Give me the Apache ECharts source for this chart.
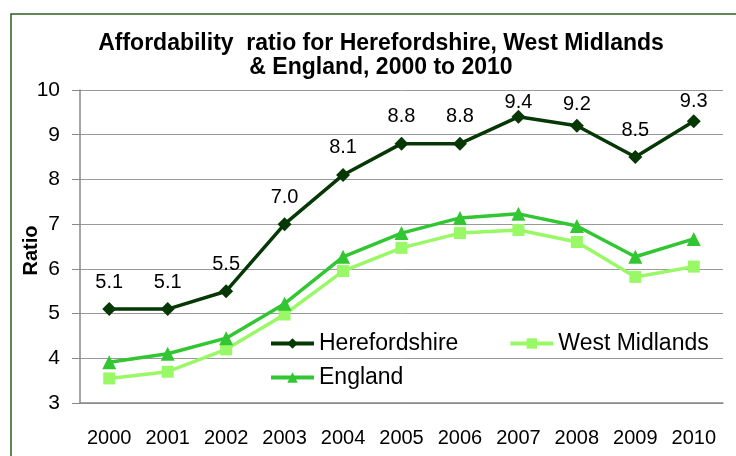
<!DOCTYPE html>
<html>
<head>
<meta charset="utf-8">
<script src="https://cdn.jsdelivr.net/npm/echarts@6/dist/echarts.min.js"></script>
<style>
    html, body { margin: 0; padding: 0; background: #fff; }
    #chart { width: 736px; height: 456px; }
</style>
</head>
<body>
<div id="chart"></div>
<script>
// data
const years = ['2000', '2001', '2002', '2003', '2004', '2005', '2006', '2007', '2008', '2009', '2010'];
const herefordshire = [5.1, 5.1, 5.5, 7.0, 8.1, 8.8, 8.8, 9.4, 9.2, 8.5, 9.3];
const westMidlands = [3.55, 3.7, 4.2, 4.98, 5.95, 6.47, 6.8, 6.87, 6.6, 5.82, 6.05];
const england = [3.91, 4.1, 4.45, 5.22, 6.27, 6.8, 7.14, 7.23, 6.96, 6.27, 6.67];

// labels near the top of the plot sit lower in the original
const labelShift = { 7: 13, 8: 6, 10: 7 };

document.addEventListener("DOMContentLoaded", function () {
    lineChart()
});

function lineChart() {
    const chart = echarts.init(document.getElementById('chart'));
    const font = 'Liberation Sans, Arial, sans-serif';

    const hereData = herefordshire.map(function (v, i) {
        if (labelShift[i]) {
            return { value: v, label: { offset: [0, labelShift[i]] } };
        }
        return v;
    });

    const legendText = { fontFamily: font, fontSize: 23, color: '#000' };

    chart.setOption({
        animation: false,
        textStyle: { fontFamily: font },
        title: {
            text: 'Affordability  ratio for Herefordshire, West Midlands\n& England, 2000 to 2010',
            left: 376,
            top: 27,
            textAlign: 'center',
            textStyle: {
                fontFamily: font,
                fontSize: 23,
                fontWeight: 'bold',
                color: '#000',
                lineHeight: 24
            }
        },
        // frame round the chart
        graphic: [{
            type: 'rect',
            shape: { x: 11, y: 14, width: 760, height: 480 },
            style: { fill: 'none', stroke: '#2e5e1e', lineWidth: 1.5 },
            silent: true
        }],
        legend: [{
            data: ['Herefordshire', 'West Midlands'],
            left: 269,
            top: 332,
            padding: 0,
            itemWidth: 43,
            itemHeight: 13,
            itemGap: 50,
            lineStyle: { width: 4 },
            textStyle: legendText
        }, {
            data: ['England'],
            left: 269,
            top: 366,
            padding: 0,
            itemWidth: 43,
            itemHeight: 13,
            lineStyle: { width: 4 },
            textStyle: legendText
        }],
        grid: { left: 80, right: 13, top: 90, bottom: 53 },
        xAxis: {
            type: 'category',
            data: years,
            boundaryGap: true,
            axisLine: { lineStyle: { color: '#888', width: 1.5 } },
            axisTick: { length: 6, lineStyle: { color: '#888' } },
            axisLabel: { fontSize: 20, color: '#000', margin: 25, fontFamily: font }
        },
        yAxis: {
            type: 'value',
            min: 3,
            max: 10,
            interval: 1,
            name: 'Ratio',
            nameLocation: 'middle',
            nameRotate: 90,
            nameGap: 39,
            nameMoveOverlap: false,
            nameTextStyle: { fontSize: 20, fontWeight: 'bold', color: '#000', fontFamily: font, padding: [0, 8, 0, 0] },
            axisLine: { show: true, lineStyle: { color: '#888', width: 1.5 } },
            axisTick: { show: true, length: 8, lineStyle: { color: '#888' } },
            axisLabel: { fontSize: 21, color: '#000', margin: 20, fontFamily: font },
            splitLine: { lineStyle: { color: '#999', width: 1 } }
        },
        series: [
            {
                name: 'Herefordshire',
                type: 'line',
                data: hereData,
                symbol: 'diamond',
                symbolSize: 14,
                itemStyle: { color: '#063806' },
                lineStyle: { color: '#063806', width: 3.5 },
                label: {
                    show: true,
                    position: 'top',
                    distance: 10,
                    fontSize: 20,
                    color: '#000',
                    fontFamily: font,
                    formatter: function (p) { return p.value.toFixed(1); }
                },
                z: 4
            },
            {
                name: 'West Midlands',
                type: 'line',
                data: westMidlands,
                symbol: 'rect',
                symbolSize: 12,
                itemStyle: { color: '#99f866' },
                lineStyle: { color: '#99f866', width: 3.5 },
                z: 2
            },
            {
                name: 'England',
                type: 'line',
                data: england,
                symbol: 'triangle',
                symbolSize: 14,
                itemStyle: { color: '#33c633' },
                lineStyle: { color: '#33c633', width: 3.5 },
                z: 3
            }
        ]
    });
}
</script>
</body>
</html>
